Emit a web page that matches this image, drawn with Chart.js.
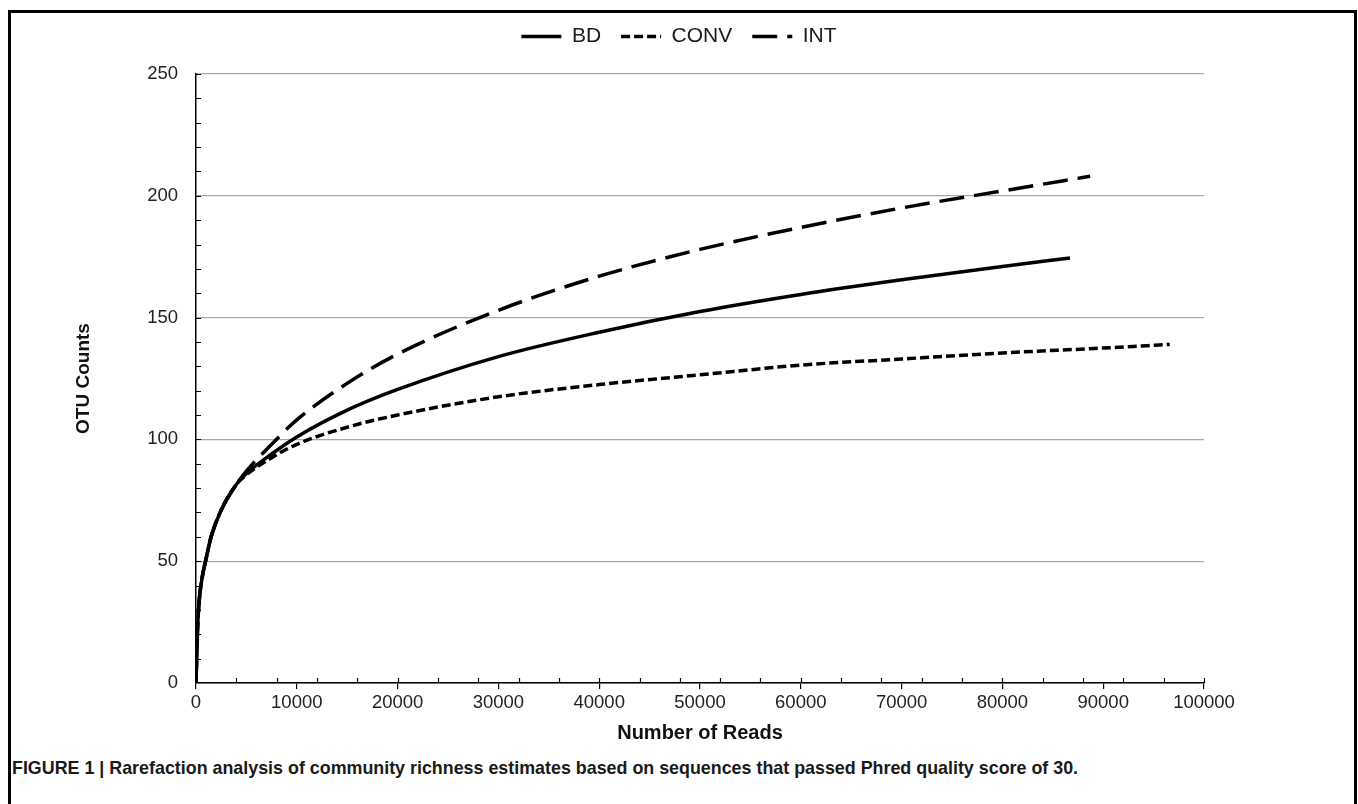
<!DOCTYPE html>
<html>
<head>
<meta charset="utf-8">
<script src="https://cdn.jsdelivr.net/npm/chart.js@4.4.1/dist/chart.umd.min.js"></script>
<style>
  html, body { margin: 0; padding: 0; background: #fff; }
  body { width: 1358px; height: 804px; overflow: hidden; position: relative; }
  #frame { position: absolute; left: 8px; top: 10px; width: 1343px; height: 830px; border: 3px solid #000; border-bottom: none; }
  #wrap { position: absolute; left: 0; top: 0; width: 1358px; height: 750px; }
  #caption { position: absolute; left: 12px; top: 757px; font-family: "Liberation Sans Narrow", "Arial Narrow", "Liberation Sans", Arial, sans-serif; font-weight: bold; font-size: 19px; color: #1a1a1a; white-space: nowrap; transform: scaleX(0.94); transform-origin: 0 0; }
</style>
</head>
<body>
<div id="frame"></div>
<div id="wrap"><canvas id="chart" width="1358" height="750"></canvas></div>
<div id="caption">FIGURE 1 | Rarefaction analysis of community richness estimates based on sequences that passed Phred quality score of 30.</div>
<script>
// valores (lecturas -> OTUs)
const bdReads = [0, 50, 150, 300, 600, 1000, 1500, 2500, 4000, 5000, 7500, 10000, 15000, 20000, 30000, 40000, 50000, 60000, 70000, 80000, 86700];
const bdOtu = [0, 8, 22, 33, 43, 51, 60, 71, 81.5, 86, 94, 101, 112, 120.5, 134, 144, 152.5, 159.5, 165.5, 171, 174.5];

const convReads = [0, 50, 150, 300, 600, 1000, 1500, 2500, 4000, 5000, 7500, 10000, 15000, 20000, 30000, 40000, 50000, 60000, 70000, 80000, 90000, 96600];
const convOtu = [0, 8, 22, 33, 43, 51, 60, 71, 81.5, 85.5, 92.5, 98, 105, 110, 117.5, 122.5, 126.5, 130.5, 133, 135.5, 137.5, 139];

const intReads = [0, 50, 150, 300, 600, 1000, 1500, 2500, 4000, 5000, 7500, 10000, 15000, 20000, 30000, 40000, 50000, 60000, 70000, 80000, 88700];
const intOtu = [0, 8, 22, 33, 43, 51, 60, 71, 81.5, 87, 98, 108, 123, 135, 153, 167, 178, 187, 195, 202, 208];

const xTickStep = 10000;
const xMinorStep = 4000;
const yTickStep = 50;
const yMinorStep = 10;

const FONT = '"Liberation Sans", Arial, sans-serif';

function toPoints(xs, ys) {
  return xs.map((x, i) => ({ x: x, y: ys[i] }));
}

function lineSet(label, xs, ys, dash) {
  return {
    label: label,
    data: toPoints(xs, ys),
    borderColor: '#000',
    backgroundColor: '#000',
    borderWidth: 3.5,
    borderDash: dash,
    pointRadius: 0,
    cubicInterpolationMode: 'monotone',
    fill: false
  };
}

// marcas menores hacia adentro de los ejes
const minorTicks = {
  id: 'minorTicks',
  afterDraw(chart) {
    const ctx = chart.ctx;
    const xs = chart.scales.x, ys = chart.scales.y;
    ctx.save();
    ctx.strokeStyle = '#000';
    ctx.lineWidth = 1.2;
    ctx.beginPath();
    for (let v = xMinorStep; v <= xs.max; v += xMinorStep) {
      const px = Math.round(xs.getPixelForValue(v)) + 0.5;
      ctx.moveTo(px, ys.bottom);
      ctx.lineTo(px, ys.bottom - 5);
    }
    for (let v = yMinorStep; v <= ys.max; v += yMinorStep) {
      const py = Math.round(ys.getPixelForValue(v)) + 0.5;
      ctx.moveTo(xs.left, py);
      ctx.lineTo(xs.left + 5, py);
    }
    ctx.stroke();
    ctx.restore();
  }
};

// centra la leyenda en todo el ancho del lienzo y la sube arriba
const legendTop = 6;
const centerLegend = {
  id: 'centerLegend',
  afterLayout(chart) {
    const lg = chart.legend;
    if (!lg) return;
    lg.left = 0;
    lg.right = chart.width;
    lg.width = chart.width;
    lg.top = legendTop;
    lg.bottom = legendTop + lg.height;
  }
};

new Chart(document.getElementById('chart').getContext('2d'), {
  type: 'line',
  data: {
    datasets: [
      lineSet('BD', bdReads, bdOtu, []),
      lineSet('CONV', convReads, convOtu, [9, 4]),
      lineSet('INT', intReads, intOtu, [25, 10])
    ]
  },
  options: {
    responsive: false,
    animation: false,
    devicePixelRatio: 1,
    layout: { padding: { left: 0, right: 154, top: 23, bottom: 0 } },
    plugins: {
      tooltip: { enabled: false },
      legend: {
        position: 'top',
        labels: {
          usePointStyle: true,
          pointStyle: 'line',
          pointStyleWidth: 40,
          padding: 20,
          color: '#1a1a1a',
          font: { family: FONT, size: 21 },
          generateLabels(chart) {
            const items = Chart.defaults.plugins.legend.labels.generateLabels(chart);
            items.forEach(it => {
              const ds = chart.data.datasets[it.datasetIndex];
              it.lineDash = ds.borderDash;
              it.lineWidth = ds.borderWidth;
              it.strokeStyle = ds.borderColor;
            });
            return items;
          }
        }
      }
    },
    scales: {
      x: {
        type: 'linear',
        min: 0,
        max: 100000,
        afterFit(s) { s.height = 67; },
        ticks: {
          stepSize: xTickStep,
          padding: 3,
          color: '#222',
          font: { family: FONT, size: 18.5 },
          maxRotation: 0,
          callback: v => String(v)
        },
        grid: { drawOnChartArea: false, tickLength: 6, color: '#000', lineWidth: 1.2 },
        border: { color: '#000', width: 1.5 },
        title: {
          display: true,
          text: 'Number of Reads',
          color: '#111',
          font: { family: FONT, size: 20, weight: 'bold' },
          padding: { top: 0, bottom: 5 }
        }
      },
      y: {
        min: 0,
        max: 250,
        afterFit(s) { s.width = 196; },
        ticks: {
          stepSize: yTickStep,
          padding: 18,
          color: '#222',
          font: { family: FONT, size: 18.5 }
        },
        grid: { drawTicks: false, color: '#a8a8a8', lineWidth: 1.2 },
        border: { color: '#000', width: 1.5 },
        title: {
          display: true,
          text: 'OTU Counts',
          color: '#111',
          font: { family: FONT, size: 19, weight: 'bold' },
          padding: { top: 72, bottom: 0 }
        }
      }
    }
  },
  plugins: [minorTicks, centerLegend]
});
</script>
</body>
</html>
